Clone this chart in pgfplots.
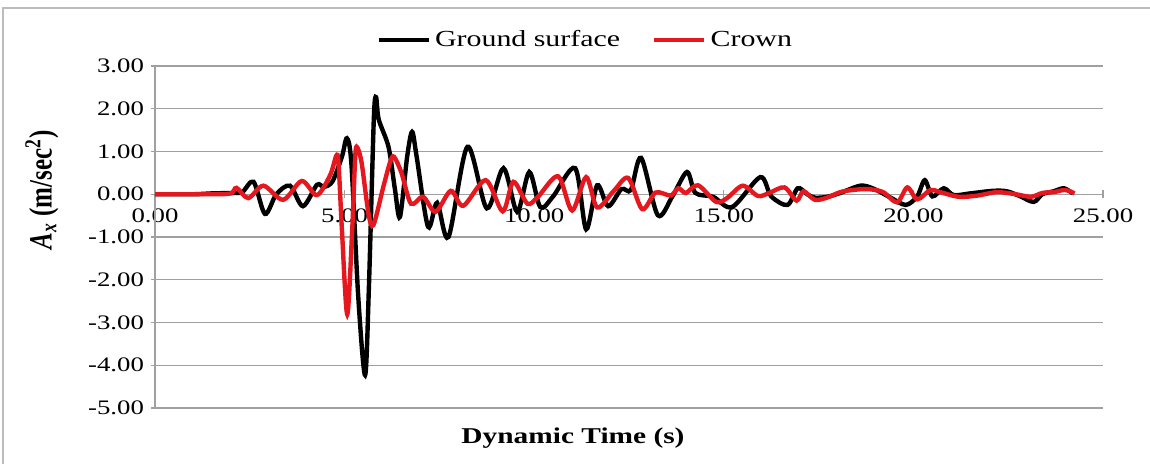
\documentclass[border=0pt]{standalone}
\usepackage{fontspec}
\setmainfont{Liberation Serif}[FakeStretch=1.3]
\newfontfamily\plainserif{Liberation Serif}
\usepackage{graphicx}
\usepackage{pgfplots}
\pgfplotsset{compat=1.18}
\definecolor{crownred}{RGB}{228,24,30}
\definecolor{gridgray}{RGB}{160,160,160}

% Horizontal acceleration time histories
\pgfplotstableread{
t a
0 0
1.0 0.0
1.5 0.02
2.0 0.03
2.3 0.05
2.6 0.29
2.9 -0.46
3.2 0.0
3.56 0.2
3.9 -0.28
4.27 0.22
4.45 0.17
4.68 0.3
4.93 0.88
5.06 1.31
5.18 0.7
5.36 -2.4
5.54 -4.23
5.64 -2.2
5.77 1.75
5.83 2.27
5.9 1.75
6.16 1.1
6.33 0.1
6.46 -0.53
6.65 0.88
6.78 1.46
6.9 0.88
7.2 -0.76
7.44 -0.2
7.74 -1.0
8.24 1.11
8.75 -0.33
9.19 0.61
9.55 -0.41
9.87 0.52
10.16 -0.3
10.5 -0.05
11.08 0.61
11.37 -0.82
11.66 0.21
11.95 -0.28
12.3 0.12
12.55 0.1
12.82 0.85
13.26 -0.49
13.65 -0.04
14.03 0.52
14.25 0.03
14.72 -0.06
15.22 -0.3
15.96 0.4
16.25 -0.05
16.68 -0.25
16.95 0.14
17.2 0.0
17.4 -0.08
17.73 -0.06
18.07 0.03
18.6 0.2
18.95 0.13
19.4 -0.08
19.8 -0.25
20.1 -0.05
20.3 0.33
20.5 -0.05
20.8 0.14
21.06 -0.02
21.5 0.02
22.1 0.08
22.46 0.07
22.8 -0.04
23.17 -0.18
23.4 0.0
23.7 0.07
23.97 0.14
24.2 0.02
}\groundsurface

\pgfplotstableread{
t a
0 0
1.5 0.0
2.0 0.02
2.15 0.15
2.46 -0.09
2.86 0.2
3.38 -0.13
3.87 0.31
4.27 -0.02
4.62 0.45
4.78 0.9
4.84 0.73
4.93 -0.84
5.07 -2.81
5.2 -0.84
5.28 0.88
5.33 1.1
5.45 0.73
5.63 -0.45
5.76 -0.72
6.02 0.17
6.2 0.75
6.3 0.88
6.5 0.5
6.75 -0.22
7.07 -0.06
7.4 -0.41
7.8 0.08
8.13 -0.27
8.72 0.33
9.17 -0.4
9.45 0.29
9.82 -0.22
10.1 -0.06
10.63 0.42
11.0 -0.38
11.37 0.4
11.66 -0.31
12.1 0.08
12.48 0.38
12.85 -0.35
13.2 0.04
13.6 -0.03
13.8 0.14
14.0 0.03
14.32 0.21
14.8 -0.18
15.1 -0.08
15.5 0.2
15.9 -0.04
16.2 0.03
16.6 0.16
16.92 -0.15
17.1 0.07
17.4 -0.13
17.72 -0.08
18.07 0.05
18.4 0.1
18.8 0.12
19.2 0.05
19.57 -0.19
19.84 0.16
20.1 -0.12
20.45 0.1
20.7 0.05
21.2 -0.06
21.7 -0.03
22.2 0.05
22.7 0.0
23.1 -0.06
23.4 0.03
23.7 0.05
24.0 0.1
24.25 0.02
}\crown

\pgfplotsset{
  chartframe/.style={
    at={(77.5pt,28pt)}, anchor=south west,
    scale only axis, width=474pt, height=171pt,
    xmin=0, xmax=25, ymin=-5, ymax=3,
    axis line style={-, gridgray, line width=0.6pt},
    tick align=outside, major tick length=4pt,
    tick style={gridgray, line width=0.6pt},
    /pgf/number format/assume math mode=true,
    /pgf/number format/.cd, fixed, fixed zerofill, precision=2, /pgfplots/.cd,
    ticklabel style={font=\fontsize{10.3}{12}\selectfont, text=black},
  },
}

\begin{document}
\begin{tikzpicture}
\path[use as bounding box] (0,0) rectangle (575pt,232pt);
% outer chart frame
\draw[gridgray!70, line width=0.7pt] (1.5pt,-5pt) -- (1.5pt,228pt) -- (580pt,228pt);
% time axis crossing at zero acceleration
\begin{axis}[chartframe,
  axis y line=none, axis x line=middle,
  every inner x axis line/.append style={-},
  xtick={0,5,...,25}, ytick=\empty,
  xticklabel style={yshift=-1.6pt},
]
\end{axis}
\begin{axis}[chartframe,
  axis y line=left, axis x line=none,
  every outer y axis line/.append style={-},
  ytick={-5,-4,...,3}, xtick=\empty,
  ymajorgrids, grid style={gridgray, line width=0.6pt},
  legend style={at={(0.455,1.076)}, anchor=center, draw=none, fill=none,
    font=\fontsize{11.5}{13}\selectfont, legend columns=2,
    /tikz/every even column/.append style={column sep=14pt}},
  legend image code/.code={\draw[#1] (0pt,0pt) -- (25pt,0pt);},
]
\addplot[black, line width=2.2pt, smooth, tension=0.5] table[x=t, y=a] {\groundsurface};
\addlegendentry{Ground surface}
\addplot[crownred, line width=2.2pt, smooth, tension=0.5] table[x=t, y=a] {\crown};
\addlegendentry{Crown}
\end{axis}
\node[font=\bfseries\fontsize{11.3}{13}\selectfont] at (286.5pt,13pt) {Dynamic Time (s)};
\node[rotate=90] at (21pt,137pt) {\scalebox{1}[1.3]{\plainserif\bfseries\fontsize{12.5}{14}\selectfont\textit{A}\textsubscript{\textit{x}} (m/sec\textsuperscript{2})}};
\end{tikzpicture}
\end{document}
